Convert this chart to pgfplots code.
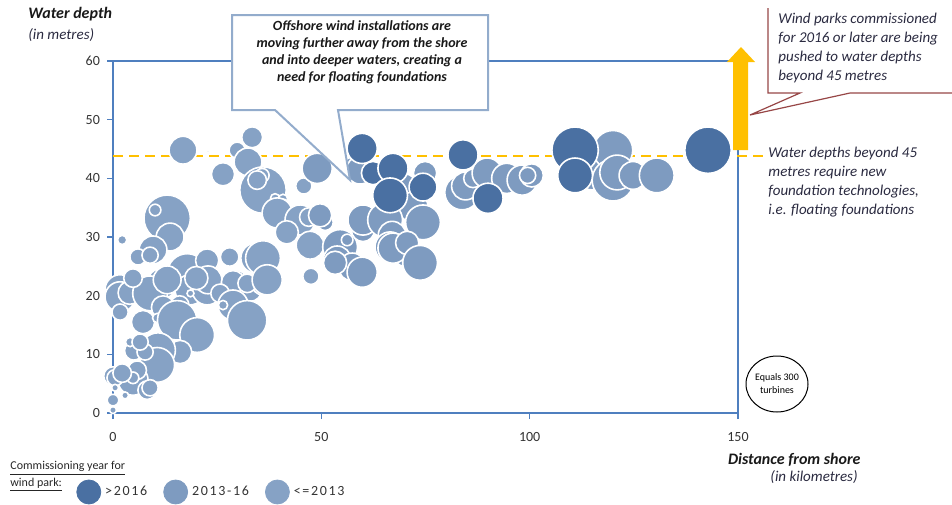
\documentclass[border=0pt]{standalone}
\usepackage{pgfplots}
\pgfplotsset{compat=1.18}
\usepackage{fontspec}
\setmainfont{Carlito}
\definecolor{cDark}{HTML}{4A70A2}
\definecolor{cMid}{HTML}{7E9BC0}
\definecolor{cEarly}{HTML}{86A2C5}
\definecolor{cAxis}{HTML}{4F7FBF}
\definecolor{cCallout}{HTML}{93ACCC}
\definecolor{cRed}{HTML}{974646}
\definecolor{cYellow}{HTML}{FFC000}
\definecolor{cText}{HTML}{2A2A40}

\pgfplotsset{
  bubble/.style={scatter, only marks, mark=*, forget plot,
    scatter/use mapped color={draw=white, fill=#1},
    visualization depends on={\thisrow{r} \as \rad},
    scatter/@pre marker code/.append style={/tikz/mark size=0.58*\rad},
    line width=0.8pt},
}

% x = distance (km), y = depth (m), r = radius in px
\pgfplotstableread{
x y r
16.8 44.8 12
22.8 44.6 1.5
33.4 47.0 9
29.8 44.8 7
32.4 42.8 12
26.4 40.7 10
36.0 38.0 20
35.8 40.5 6
34.6 39.7 8
38.9 36.6 4
40.8 36.5 4
40.6 35.1 7
39.4 34.1 13
45.8 38.7 7
44.9 32.9 13
47.0 33.4 8
41.7 30.8 10
47.3 28.6 12
47.5 23.3 7
13.0 33.2 20
10.1 34.6 5
13.7 30.0 12
9.6 27.8 12
6.0 26.6 7
8.9 26.9 7
2.2 29.5 4
17.8 23.8 17
34.3 26.4 13
36.0 26.4 15
28.0 26.6 8
23.3 25.6 8
22.6 26.0 10
1.7 21.0 13
11.8 22.1 13
18.5 21.0 13
22.6 21.0 13
32.9 21.0 10
36.0 22.1 10
29.8 22.7 8
22.8 22.7 12
28.8 22.3 10
32.2 22.1 8
37.0 22.7 13
28.8 19.3 8
1.7 19.8 13
4.0 20.5 10
8.9 20.4 15
13.0 22.7 12
20.0 23.0 10
12.0 18.0 10
16.0 18.4 8
4.8 23.0 8
25.7 20.4 8
27.4 18.7 5
18.6 20.4 3
1.7 17.2 7
7.2 15.5 10
10.6 16.2 4
15.4 15.8 17
28.8 18.4 13
32.2 15.8 17
26.4 18.4 4
20.2 13.3 15
5.0 10.6 8
16.1 10.4 10
10.8 10.7 15
10.6 8.2 15
7.7 10.4 7
4.1 12.1 4
6.5 12.1 7
4.8 5.6 13
5.8 7.3 8
4.8 6.0 5
8.2 3.9 8
8.9 4.3 7
0.0 6.3 8
0.5 6.0 7
2.2 6.8 8
0.5 4.3 3
2.9 3.0 3
0.0 2.2 5
0.0 0.5 3
}\early

\pgfplotstableread{
x y r
49.0 41.7 13
50.9 32.5 7
49.7 33.7 10
54.5 28.3 15
53.8 26.1 12
57.4 42.0 8
59.3 41.4 12
74.9 40.9 10
70.0 38.8 10
69.5 37.6 4
72.0 35.1 13
60.0 31.2 10
60.0 32.9 13
65.3 32.9 15
74.4 32.5 15
67.0 30.3 12
66.5 28.3 13
70.0 27.0 10
56.2 29.5 5
57.4 24.9 12
53.3 25.6 10
59.8 24.0 13
67.2 28.1 13
70.6 29.0 10
73.7 25.6 15
83.8 37.6 15
84.6 38.7 12
86.4 40.0 8
89.8 40.9 13
94.5 40.0 13
98.2 39.7 13
100.5 40.5 10
99.5 40.5 7
108.7 36.3 1
115.0 41.0 15
120.0 44.8 17
120.0 39.7 18
121.0 41.0 15
124.8 40.5 12
130.5 40.5 15
}\mid

\pgfplotstableread{
x y r
59.8 45.1 13
62.4 40.9 10
67.2 41.7 13
66.5 37.1 15
74.4 38.5 12
84.0 44.0 13
90.0 36.6 13
110.9 44.8 20
110.9 40.5 15
142.8 44.8 20
}\late

\begin{document}
\begin{tikzpicture}
\useasboundingbox (0,0) rectangle (476pt,-252pt);
\begin{axis}[
  at={(56.5pt,-206.5pt)}, anchor=south west,
  scale only axis, width=312.5pt, height=176pt,
  xmin=0, xmax=150, ymin=0, ymax=60,
  xtick={0,50,100,150}, ytick={0,10,...,60},
  clip=false,
  axis line style={cAxis, line width=1pt},
  tick style={cAxis, line width=0.8pt},
  tick align=outside, xtick pos=left, ytick pos=left,
  major tick length=3pt,
  tick label style={font=\fontsize{7}{8}\selectfont, text=black!80},
  xticklabel style={yshift=-3pt},
  /pgf/number format/assume math mode=true,
  legend columns=3,
  legend cell align=left,
  legend style={at={(axis description cs:-0.0592,-0.2244)}, anchor=west,
    draw=none, fill=none, inner sep=0pt, text=black!80,
    font=\fontsize{7}{8}\selectfont\addfontfeature{LetterSpace=12},
    /tikz/every even column/.append style={column sep=6pt}},
]
\addlegendimage{legend image code/.code={\fill[cDark] (6pt,0pt) circle (6pt);}}
\addlegendentry{>2016}
\addlegendimage{legend image code/.code={\fill[cMid] (6pt,0pt) circle (6pt);}}
\addlegendentry{2013-16}
\addlegendimage{legend image code/.code={\fill[cEarly] (6pt,0pt) circle (6pt);}}
\addlegendentry{<=2013}

\addplot[bubble=cEarly] table {\early};
\addplot[bubble=cMid] table {\mid};
\addplot[bubble=cDark] table {\late};

\addplot[cYellow, line width=1.2pt, dash pattern=on 5pt off 3pt, forget plot]
  coordinates {(0,43.8) (156.5,43.8)};
\end{axis}

\begin{scope}[x=0.5pt, y=-0.5pt]
  % callout box
  \draw[cCallout, line width=1pt, fill=white]
    (232,15) -- (488,15) -- (488,110) -- (338,110) -- (350,180)
    -- (275,110) -- (232,110) -- cycle;
  \node[align=center, inner sep=0pt, text=black!90,
    font=\fontsize{7}{8.5}\selectfont\bfseries\itshape] at (362,52)
    {Offshore wind installations are\\moving further away from the shore\\
     and into deeper waters, creating a\\need for floating foundations};
  % red callout
  \draw[cRed, line width=0.6pt]
    (768,8) -- (768,93) -- (800,93) -- (750,115) -- (850,93) -- (952,93);
  \node[anchor=north west, align=left, inner sep=0pt, text=cText,
    font=\fontsize{7.5}{9.5}\selectfont\itshape] at (778,13)
    {Wind parks commissioned\\for 2016 or later are being\\pushed to water depths\\beyond 45 metres};
  % yellow arrow
  \fill[cYellow] (733,150) -- (733,62) -- (727,62) -- (741,47) -- (755,62)
    -- (748,62) -- (748,150) -- cycle;
  \node[anchor=north west, align=left, inner sep=0pt, text=cText,
    font=\fontsize{7.5}{9.5}\selectfont\itshape] at (768,147)
    {Water depths beyond 45\\metres require new\\foundation technologies,\\i.e. floating foundations};
  % axis titles
  \node[anchor=west, inner sep=0pt, text=black!90,
    font=\fontsize{8}{9}\selectfont\bfseries\itshape] at (28,14) {Water depth};
  \node[anchor=west, inner sep=0pt, text=cText,
    font=\fontsize{7.5}{9}\selectfont\itshape] at (28,35) {(in metres)};
  \node[anchor=east, inner sep=0pt, text=black!90,
    font=\fontsize{8}{9}\selectfont\bfseries\itshape] at (861,460) {Distance from shore};
  \node[anchor=east, inner sep=0pt, text=cText,
    font=\fontsize{7.5}{9}\selectfont\itshape] at (858,477) {(in kilometres)};
  % size key
  \draw[black, line width=0.5pt] (777,384) ellipse (31 and 28);
  \node[align=center, inner sep=0pt, font=\fontsize{5}{6.5}\selectfont]
    at (777,384) {Equals 300\\turbines};
  % legend title
  \node[anchor=north west, align=left, inner sep=0pt, text=black!85,
    font=\fontsize{6}{6}\selectfont] at (10,461)
    {\underline{Commissioning year for}\\\underline{wind park:}};
\end{scope}
\end{tikzpicture}
\end{document}
